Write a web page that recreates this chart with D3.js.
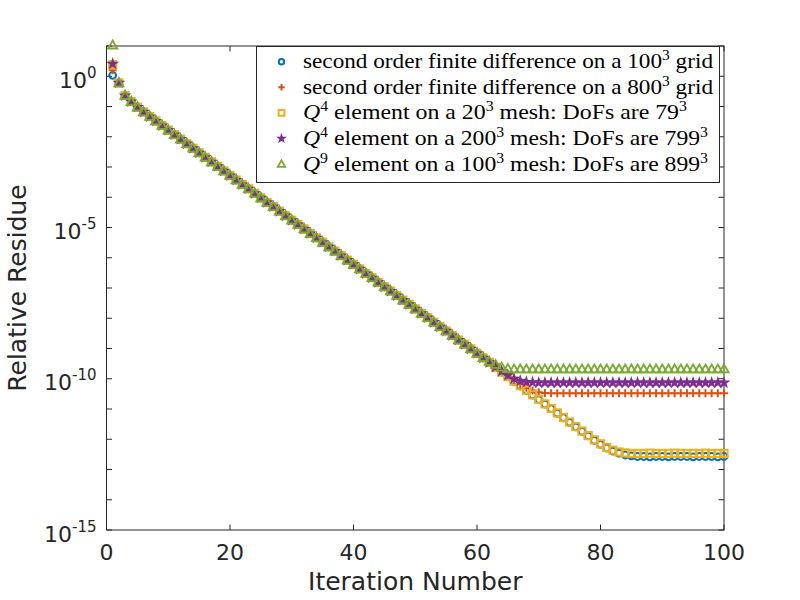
<!DOCTYPE html>
<html>
<head>
<meta charset="utf-8">
<script src="https://cdn.jsdelivr.net/npm/d3@7"></script>
<style>
  body { margin: 0; background: #fff; }
  svg { display: block; }
</style>
</head>
<body>
<div id="chart"></div>
<script>
// iteration numbers on the x axis
var iterations = d3.range(1, 101)

// log10 of the relative residue, shared part (iterations 2..60)
var commonPart = [
  -0.22, -0.64, -0.84, -1.02, -1.18, -1.33, -1.48, -1.63, -1.78, -1.93,
  -2.08, -2.23, -2.38, -2.53, -2.68, -2.83, -2.98, -3.13, -3.28, -3.43,
  -3.58, -3.72, -3.87, -4.02, -4.17, -4.31, -4.46, -4.61, -4.76, -4.90,
  -5.05, -5.20, -5.34, -5.49, -5.64, -5.78, -5.93, -6.08, -6.22, -6.37,
  -6.52, -6.66, -6.81, -6.96, -7.10, -7.25, -7.40, -7.54, -7.69, -7.84,
  -7.98, -8.13, -8.28, -8.42, -8.57, -8.72, -8.86, -9.01, -9.16]

// iterations 61..100 for each run
var tailFd100 = [
  -9.31, -9.46, -9.62, -9.78, -9.93, -10.09, -10.24, -10.39, -10.54, -10.69,
  -10.84, -10.99, -11.14, -11.29, -11.44, -11.59, -11.74, -11.89, -12.04, -12.17,
  -12.29, -12.39, -12.46, -12.52, -12.55, -12.57, -12.57, -12.58, -12.57, -12.57,
  -12.58, -12.57, -12.57, -12.57, -12.58, -12.57, -12.57, -12.57, -12.58, -12.57]
var tailFd800 = [
  -9.31, -9.46, -9.61, -9.76, -9.90, -10.04, -10.18, -10.30, -10.39, -10.45,
  -10.47, -10.48, -10.48, -10.48, -10.48, -10.48, -10.48, -10.48, -10.48, -10.48,
  -10.48, -10.48, -10.48, -10.48, -10.48, -10.48, -10.48, -10.48, -10.48, -10.48,
  -10.48, -10.48, -10.48, -10.48, -10.48, -10.48, -10.48, -10.48, -10.48, -10.48]
var tailQ4m20 = [
  -9.31, -9.46, -9.62, -9.78, -9.93, -10.08, -10.23, -10.38, -10.53, -10.68,
  -10.83, -10.98, -11.13, -11.28, -11.43, -11.58, -11.73, -11.88, -12.02, -12.15,
  -12.27, -12.36, -12.42, -12.45, -12.47, -12.47, -12.47, -12.46, -12.47, -12.47,
  -12.47, -12.46, -12.47, -12.47, -12.47, -12.47, -12.46, -12.47, -12.47, -12.47]
var tailQ4m200 = [
  -9.31, -9.46, -9.61, -9.75, -9.88, -10.00, -10.07, -10.11, -10.12, -10.13,
  -10.13, -10.13, -10.13, -10.13, -10.13, -10.13, -10.13, -10.13, -10.13, -10.13,
  -10.13, -10.13, -10.13, -10.13, -10.13, -10.13, -10.13, -10.13, -10.13, -10.13,
  -10.13, -10.13, -10.13, -10.13, -10.13, -10.13, -10.13, -10.13, -10.13, -10.13]
var tailQ9m100 = [
  -9.30, -9.43, -9.53, -9.62, -9.67, -9.68, -9.68, -9.68, -9.68, -9.68,
  -9.68, -9.68, -9.68, -9.68, -9.68, -9.68, -9.68, -9.68, -9.68, -9.68,
  -9.68, -9.68, -9.68, -9.68, -9.68, -9.68, -9.68, -9.68, -9.68, -9.68,
  -9.68, -9.68, -9.68, -9.68, -9.68, -9.68, -9.68, -9.68, -9.68, -9.68]

var fd100 = [0.03].concat(commonPart, tailFd100)
var fd800 = [0.20].concat(commonPart, tailFd800)
var q4m20 = [0.38].concat(commonPart, tailQ4m20)
var q4m200 = [0.41].concat(commonPart, tailQ4m200)
var q9m100 = [1.03].concat(commonPart, tailQ9m100)

var xTicks = [0, 20, 40, 60, 80, 100]
var yTicks = d3.range(-15, 2)          // every decade
var yLabelled = [0, -5, -10, -15]

var series = [
  {name: "fd100", vals: fd100, color: "#0072BD", marker: "circle"},
  {name: "fd800", vals: fd800, color: "#D95319", marker: "plus"},
  {name: "q4m20", vals: q4m20, color: "#EDB120", marker: "square"},
  {name: "q4m200", vals: q4m200, color: "#7E2F8E", marker: "star"},
  {name: "q9m100", vals: q9m100, color: "#77AC30", marker: "triangle"}
]

var width = 800, height = 600
var margin = {top: 46, right: 76, bottom: 70, left: 106.5}
var axisColor = "#262626"

var svg = d3.select("#chart").append("svg")
    .attr("width", width)
    .attr("height", height)

var x = d3.scaleLinear().domain([0, 100]).range([margin.left, width - margin.right])
var y = d3.scaleLog().domain([1e-15, 1e1]).range([height - margin.bottom, margin.top])

var x0 = x.range()[0], x1 = x.range()[1]
var y0 = y.range()[0], y1 = y.range()[1]
var tickLen = 5.5

// ticks (inward, all four sides)
var ax = svg.append("g").attr("stroke", axisColor).attr("stroke-width", 1)
xTicks.forEach(function (t) {
    ax.append("line").attr("x1", x(t)).attr("x2", x(t)).attr("y1", y0).attr("y2", y0 - tickLen)
    ax.append("line").attr("x1", x(t)).attr("x2", x(t)).attr("y1", y1).attr("y2", y1 + tickLen)
})
yTicks.forEach(function (e) {
    var yy = y(Math.pow(10, e))
    ax.append("line").attr("x1", x0).attr("x2", x0 + tickLen).attr("y1", yy).attr("y2", yy)
    ax.append("line").attr("x1", x1).attr("x2", x1 - tickLen).attr("y1", yy).attr("y2", yy)
})
ax.append("rect")
    .attr("x", x0).attr("y", y1)
    .attr("width", x1 - x0).attr("height", y0 - y1)
    .attr("fill", "none")

// tick labels
var font = "'DejaVu Sans', sans-serif"
svg.append("g").selectAll("text")
    .data(xTicks)
    .enter().append("text")
    .attr("x", function (d) { return x(d); })
    .attr("y", y0 + 30)
    .attr("text-anchor", "middle")
    .style("font-family", font)
    .style("font-size", "22px")
    .style("fill", axisColor)
    .text(function (d) { return d; })

yLabelled.forEach(function (e) {
    var t = svg.append("text")
        .attr("x", x0 - 10)
        .attr("y", y(Math.pow(10, e)) + 11.5)
        .attr("text-anchor", "end")
        .style("font-family", font)
        .style("font-size", "22px")
        .style("fill", axisColor)
    t.append("tspan").text("10")
    t.append("tspan").attr("dy", -10).style("font-size", "15px").text(e)
})

// axis titles
svg.append("text")
    .attr("x", (x0 + x1) / 2)
    .attr("y", 590)
    .attr("text-anchor", "middle")
    .style("font-family", font)
    .style("font-size", "25px")
    .style("fill", axisColor)
    .text("Iteration Number")

svg.append("text")
    .attr("transform", "translate(26," + ((y0 + y1) / 2) + ") rotate(-90)")
    .attr("text-anchor", "middle")
    .style("font-family", font)
    .style("font-size", "25px")
    .style("fill", axisColor)
    .text("Relative Residue")

// markers
function drawMarker(g, kind, color, sc) {
    sc = sc || 1
    if (kind == "circle") {
        g.append("circle").attr("r", 3.4 * sc).attr("fill", "none").attr("stroke", color).attr("stroke-width", 2)
    } else if (kind == "plus") {
        var a = 4 * sc
        g.append("path").attr("d", "M" + (-a) + ",0H" + a + "M0," + (-a) + "V" + a).attr("stroke", color).attr("stroke-width", 2)
    } else if (kind == "square") {
        var h = 3.6 * sc
        g.append("rect").attr("x", -h).attr("y", -h).attr("width", 2 * h).attr("height", 2 * h)
            .attr("fill", "none").attr("stroke", color).attr("stroke-width", 2)
    } else if (kind == "star") {
        g.append("path").attr("d", d3.symbol().type(d3.symbolStar).size(26 * sc * sc)())
            .attr("fill", color).attr("stroke", color).attr("stroke-width", 1.2)
    } else if (kind == "triangle") {
        var b = 4.6 * sc
        g.append("path").attr("d", "M0," + (-b) + "L" + b + "," + (b * 0.74) + "L" + (-b) + "," + (b * 0.74) + "Z")
            .attr("fill", "none").attr("stroke", color).attr("stroke-width", 1.8)
    }
}

series.forEach(function (s) {
    var g = svg.append("g").attr("class", "series " + s.name)
    s.vals.forEach(function (v, i) {
        var m = g.append("g")
            .attr("transform", "translate(" + x(iterations[i]) + "," + y(Math.pow(10, v)) + ")")
        drawMarker(m, s.marker, s.color)
    })
})

// legend
var legendNames = [
    [{t: "second order finite difference on a 100"}, {t: "3", sup: true}, {t: " grid"}],
    [{t: "second order finite difference on a 800"}, {t: "3", sup: true}, {t: " grid"}],
    [{t: "Q", it: true}, {t: "4", sup: true}, {t: " element on a 20"}, {t: "3", sup: true}, {t: " mesh: DoFs are 79"}, {t: "3", sup: true}],
    [{t: "Q", it: true}, {t: "4", sup: true}, {t: " element on a 200"}, {t: "3", sup: true}, {t: " mesh: DoFs are 799"}, {t: "3", sup: true}],
    [{t: "Q", it: true}, {t: "9", sup: true}, {t: " element on a 100"}, {t: "3", sup: true}, {t: " mesh: DoFs are 899"}, {t: "3", sup: true}]
]
var legendWidths = [410, 410, 384, 405, 405]

var lg = svg.append("g")
lg.append("rect")
    .attr("x", 256.5).attr("y", 46.5)
    .attr("width", 463).attr("height", 136)
    .attr("fill", "#fff")
    .attr("stroke", axisColor)
    .attr("stroke-width", 1)

series.forEach(function (s, i) {
    var cy = 61.7 + i * 25.6
    var m = lg.append("g").attr("transform", "translate(281.5," + cy + ")")
    drawMarker(m, s.marker, s.color, 0.8)
    var t = lg.append("text")
        .attr("x", 303)
        .attr("y", cy + 6.5)
        .attr("textLength", legendWidths[i])
        .attr("lengthAdjust", "spacingAndGlyphs")
        .style("font-family", "'Liberation Serif', serif")
        .style("font-size", "21px")
        .style("fill", "#000")
    var raised = false
    legendNames[i].forEach(function (p) {
        var ts = t.append("tspan").text(p.t)
        if (p.sup) {
            ts.attr("dy", -8).style("font-size", "14px")
            raised = true
        } else if (raised) {
            ts.attr("dy", 8)
            raised = false
        }
        if (p.it) ts.style("font-style", "italic")
    })
})
</script>
</body>
</html>
